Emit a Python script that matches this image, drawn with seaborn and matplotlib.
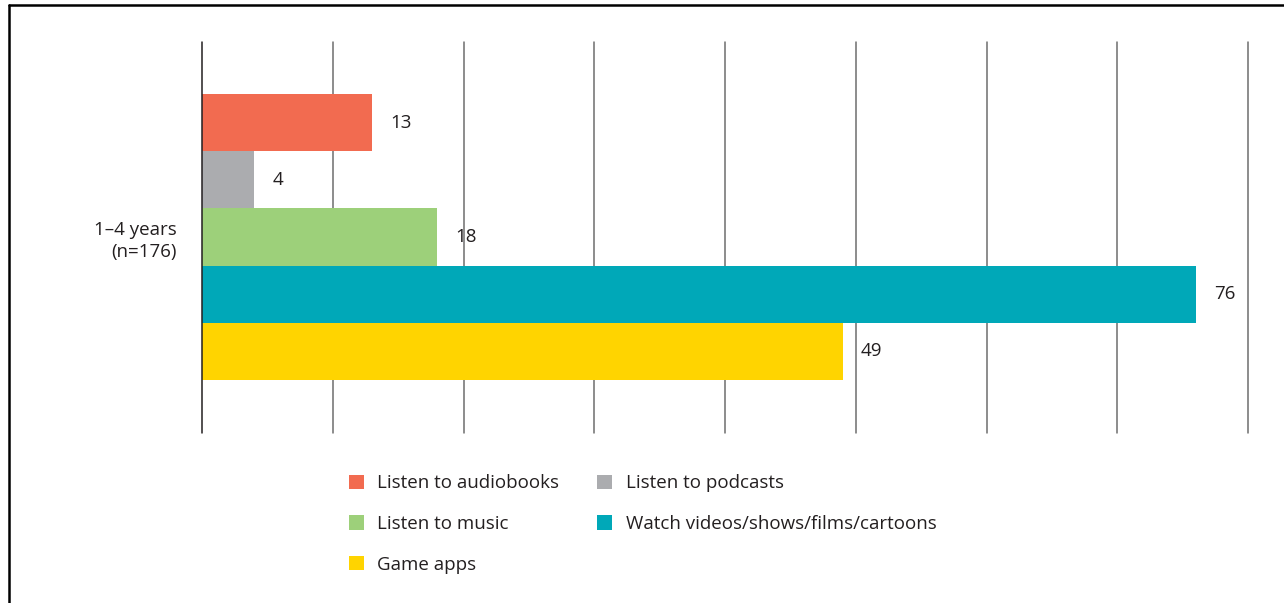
import matplotlib
matplotlib.use("Agg")
import matplotlib.pyplot as plt
from matplotlib.lines import Line2D
import seaborn as sns
import pandas as pd

# Data
group_label = "1\u20134 years\n(n=176)"
activities = [
    "Listen to audiobooks",
    "Listen to podcasts",
    "Listen to music",
    "Watch videos/shows/films/cartoons",
    "Game apps",
]
percentages = [13, 4, 18, 76, 49]
colors = ["#F26B50", "#ABACAF", "#9DD07A", "#00A8B8", "#FFD400"]
x_ticks = [0, 10, 20, 30, 40, 50, 60, 70, 80]

TEXT = "#231F20"
FS = 13.5

sns.set_theme(style="white")
plt.rcParams["font.family"] = ["Open Sans", "DejaVu Sans"]

df = pd.DataFrame({
    "group": [group_label] * len(activities),
    "activity": activities,
    "value": percentages,
})

W, H = 1284, 603
fig = plt.figure(figsize=(W / 100, H / 100), dpi=100)
ax = fig.add_axes([202 / W, 1 - 433 / H, (1248 - 202) / W, (433 - 42) / H])

sns.barplot(
    data=df, y="group", x="value", hue="activity", hue_order=activities,
    palette=colors, orient="h", width=0.8, saturation=1,
    linewidth=0, ax=ax, zorder=3,
)

ax.set_xlim(x_ticks[0], x_ticks[-1])
ax.set_ylim(0.548, -0.5455)
for xv in x_ticks[1:]:
    ax.axvline(xv, color="#6e6e6e", lw=1.1, zorder=1, clip_on=False)
ax.axvline(0, color=TEXT, lw=1.1, zorder=4, clip_on=False)

for s in ax.spines.values():
    s.set_visible(False)
ax.set_xticks([])
ax.set_xlabel("")
ax.set_ylabel("")
ax.tick_params(axis="y", length=0, pad=18)
ax.set_yticks([0])
ax.set_yticklabels([group_label], fontsize=FS, color=TEXT, ha="right", linespacing=1.25)

# Value labels at the end of each bar
for container in ax.containers:
    ax.bar_label(container, fmt="%g", padding=13, fontsize=FS, color=TEXT)

# Legend, laid out row by row in two columns
handles, labels = ax.get_legend_handles_labels()
order = [0, 2, 4, 1, 3]
ax.get_legend().remove()
fig.legend(
    [handles[i] for i in order], [labels[i] for i in order],
    loc="upper left", bbox_to_anchor=(341 / W, 1 - 467 / H),
    ncol=2, frameon=False, fontsize=FS, labelcolor=TEXT,
    handlelength=0.8, handleheight=0.8, handletextpad=0.7,
    columnspacing=2.07, labelspacing=1.2, borderaxespad=0,
)

# Outer frame (top and left edges)
fig.add_artist(Line2D([9 / W, 1.0], [1 - 5 / H, 1 - 5 / H], color="black", lw=1.8,
                      transform=fig.transFigure))
fig.add_artist(Line2D([9 / W, 9 / W], [0.0, 1 - 5 / H], color="black", lw=1.8,
                      transform=fig.transFigure))

fig.savefig("out.png", dpi=100)
